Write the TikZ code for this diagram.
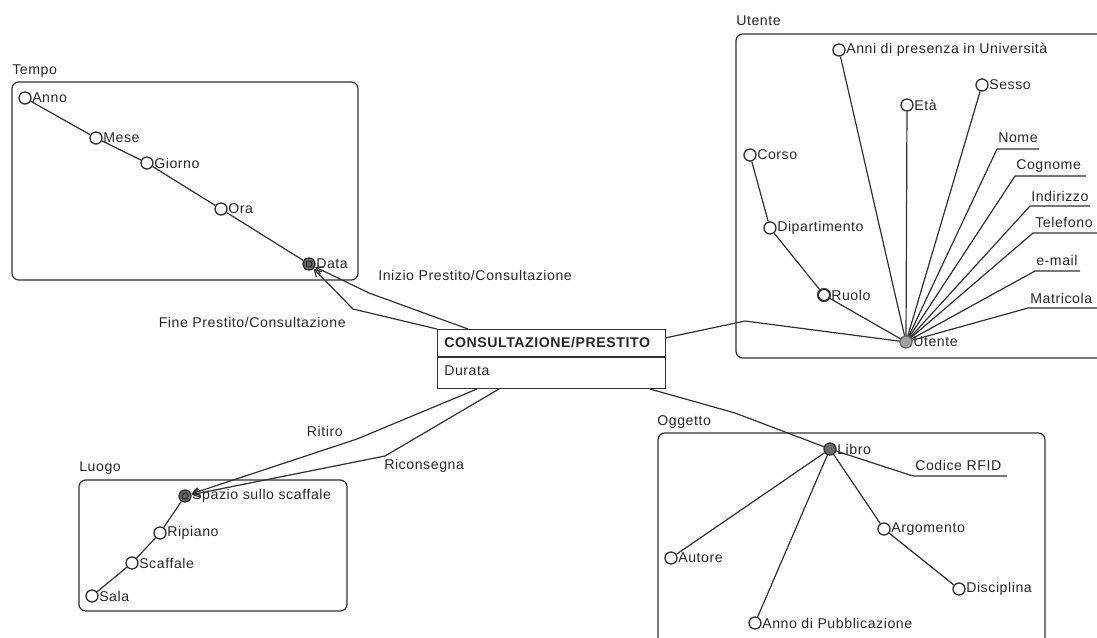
\documentclass[tikz,border=0pt]{standalone}
\usepackage{fontspec}
\setmainfont{Liberation Sans}[LetterSpace=4]
\usetikzlibrary{arrows.meta}
\pgfdeclarelayer{bg}
\pgfsetlayers{bg,main}
\definecolor{ln}{HTML}{303030}
\definecolor{darkfill}{HTML}{6A6A6A}
\definecolor{lightfill}{HTML}{A0A0A0}
\tikzset{
  every node/.style={font=\fontsize{10.6pt}{12pt}\selectfont, text=black!85},
  attr/.style={circle, draw=ln, fill=white, line width=1pt, minimum size=9pt, inner sep=0pt},
  key/.style={circle, draw=ln, fill=darkfill, line width=1pt, minimum size=9pt, inner sep=0pt},
  keyl/.style={circle, draw=darkfill, fill=lightfill, line width=1pt, minimum size=9pt, inner sep=0pt},
  lab/.style={anchor=west, inner sep=0pt},
  grp/.style={draw=ln, line width=0.9pt, rounded corners=5pt},
  conn/.style={draw=ln, line width=0.9pt},
  arr/.style={conn, -{Straight Barb[length=5pt,width=6pt]}},
}
\begin{document}
\begin{tikzpicture}[x=0.75pt,y=-0.75pt]
\useasboundingbox (0,0) rectangle (1097,637);

% ---------- group boxes ----------
\draw[grp] (12,82) rectangle (358,280);
\node[lab, anchor=base west] (tTempo) at (12,74) {Tempo};
\draw[grp] (736,34) rectangle (1110,358);
\node[lab, anchor=base west] (tUtente) at (736,25) {Utente};
\draw[grp] (79,480) rectangle (347,611);
\node[lab, anchor=base west] (tLuogo) at (79,471) {Luogo};
\draw[grp] (658,433) rectangle (1045,660);
\node[lab, anchor=base west] (tOggetto) at (657,425) {Oggetto};

% ---------- Tempo ----------
\node[attr] (anno) at (25,98) {};
\node[lab] (lanno) at (32,98) {Anno};
\node[attr] (mese) at (96,138) {};
\node[lab] (lmese) at (103,138) {Mese};
\node[attr] (giorno) at (147,163) {};
\node[lab] (lgiorno) at (154,163) {Giorno};
\node[attr] (ora) at (221,209) {};
\node[lab] (lora) at (228,209) {Ora};
\node[key] (data) at (309,264) {};
\draw[ln, line width=0.9pt] (data) circle (2.2pt);
\node[lab] (ldata) at (316,264) {Data};
\begin{pgfonlayer}{bg}
\draw[conn] (anno) -- (mese) -- (giorno) -- (ora) -- (data);
\end{pgfonlayer}

% ---------- central entity ----------
\node[draw=ln, line width=1pt, fill=white, minimum width=171pt, minimum height=44pt, inner sep=0pt, anchor=north west] (fact) at (437,329) {};
\draw[ln, line width=0.9pt] (437,357) -- (665,357);
\node[lab] (ftitle) at (444,343) {\textbf{CONSULTAZIONE/PRESTITO}};
\node[lab] (fdur) at (444,371) {Durata};

% ---------- date arrows ----------
\coordinate (iniA) at (468,329);
\coordinate (iniB) at (369,293);
\coordinate (finA) at (437,329);
\coordinate (finB) at (353,309);
\draw[arr] (iniA) -- (iniB) -- (data);
\draw[arr] (finA) -- (finB) -- (data);
\node[lab] (lini) at (378,275) {Inizio Prestito/Consultazione};
\node[lab, anchor=east] (lfin) at (346,322) {Fine Prestito/Consultazione};

% ---------- Utente ----------
\node[keyl] (utente) at (906,342) {};
\node[lab] (lutente) at (913,342) {Utente};
\node[attr] (anni) at (839,50) {};
\node[lab] (lanni) at (846,50) {Anni di presenza in Università};
\node[attr] (eta) at (907,105) {};
\node[lab] (leta) at (914,105) {Età};
\node[attr] (sesso) at (982,85) {};
\node[lab] (lsesso) at (989,85) {Sesso};
\node[attr] (corso) at (750,155) {};
\node[lab] (lcorso) at (757,155) {Corso};
\node[attr] (dip) at (770,228) {};
\node[lab] (ldip) at (777,228) {Dipartimento};
\node[attr, line width=1.5pt] (ruolo) at (824,295) {};
\node[lab] (lruolo) at (831,295) {Ruolo};

\coordinate (nomeA) at (997,149); \coordinate (nomeB) at (1039,149);
\coordinate (cognA) at (1015,176); \coordinate (cognB) at (1086,176);
\coordinate (indA) at (1030,206); \coordinate (indB) at (1090,206);
\coordinate (telA) at (1033,233); \coordinate (telB) at (1100,233);
\coordinate (mailA) at (1035,271); \coordinate (mailB) at (1080,271);
\coordinate (matA) at (1028,308); \coordinate (matB) at (1100,308);
\coordinate (uA) at (665,338);
\coordinate (uB) at (745,321);
\begin{pgfonlayer}{bg}
\draw[conn] (corso) -- (dip) -- (ruolo) -- (utente.center);
\draw[conn] (anni) -- (utente.center);
\draw[conn] (eta) -- (utente.center);
\draw[conn] (sesso) -- (utente.center);
\draw[conn] (utente.center) -- (nomeA) -- (nomeB);
\draw[conn] (utente.center) -- (cognA) -- (cognB);
\draw[conn] (utente.center) -- (indA) -- (indB);
\draw[conn] (utente.center) -- (telA) -- (telB);
\draw[conn] (utente.center) -- (mailA) -- (mailB);
\draw[conn] (utente.center) -- (matA) -- (matB);
\draw[conn] (uA) -- (uB) -- (utente.center);
\end{pgfonlayer}
\node[lab] (lnome) at (998,138) {Nome};
\node[lab] (lcogn) at (1016,166) {Cognome};
\node[lab] (lind) at (1031,196) {Indirizzo};
\node[lab] (ltel) at (1035,222) {Telefono};
\node[lab] (lmail) at (1036,260) {e-mail};
\node[lab] (lmat) at (1030,298) {Matricola};

% ---------- Luogo ----------
\node[key] (spazio) at (185,496) {};
\draw[ln, line width=0.9pt] (spazio) circle (2.2pt);
\node[lab] (lspazio) at (192,496) {Spazio sullo scaffale};
\node[attr] (ripiano) at (160,533) {};
\node[lab] (lripiano) at (167,533) {Ripiano};
\node[attr] (scaffale) at (132,563) {};
\node[lab] (lscaffale) at (139,563) {Scaffale};
\node[attr] (sala) at (92,596) {};
\node[lab] (lsala) at (99,596) {Sala};
\begin{pgfonlayer}{bg}
\draw[conn] (sala) -- (scaffale) -- (ripiano) -- (spazio);
\end{pgfonlayer}

\coordinate (ritA) at (477,389);
\coordinate (ritB) at (357,439);
\coordinate (ricA) at (499,389);
\coordinate (ricB) at (385,456);
\draw[arr] (ritA) -- (ritB) -- (spazio);
\draw[arr] (ricA) -- (ricB) -- (spazio);
\node[lab, anchor=east] (lrit) at (343,431) {Ritiro};
\node[lab] (lric) at (384,466) {Riconsegna};

% ---------- Oggetto ----------
\node[key] (libro) at (830,449) {};
\node[lab] (llibro) at (837,449) {Libro};
\coordinate (oA) at (650,389);
\coordinate (oB) at (735,413);
\coordinate (rfA) at (913,476); \coordinate (rfB) at (1007,476);
\node[lab] (lrf) at (915,465) {Codice RFID};
\node[attr] (arg) at (884,529) {};
\node[lab] (larg) at (891,529) {Argomento};
\node[attr] (disc) at (959,589) {};
\node[lab] (ldisc) at (966,589) {Disciplina};
\node[attr] (autore) at (671,558) {};
\node[lab] (lautore) at (678,558) {Autore};
\node[attr] (annop) at (755,623) {};
\node[lab] (lannop) at (762,623) {Anno di Pubblicazione};
\begin{pgfonlayer}{bg}
\draw[conn] (oA) -- (oB) -- (libro.center);
\draw[conn] (libro.center) -- (rfA) -- (rfB);
\draw[conn] (libro) -- (arg) -- (disc);
\draw[conn] (libro) -- (autore);
\draw[conn] (libro) -- (annop);
\end{pgfonlayer}
\end{tikzpicture}
\end{document}
